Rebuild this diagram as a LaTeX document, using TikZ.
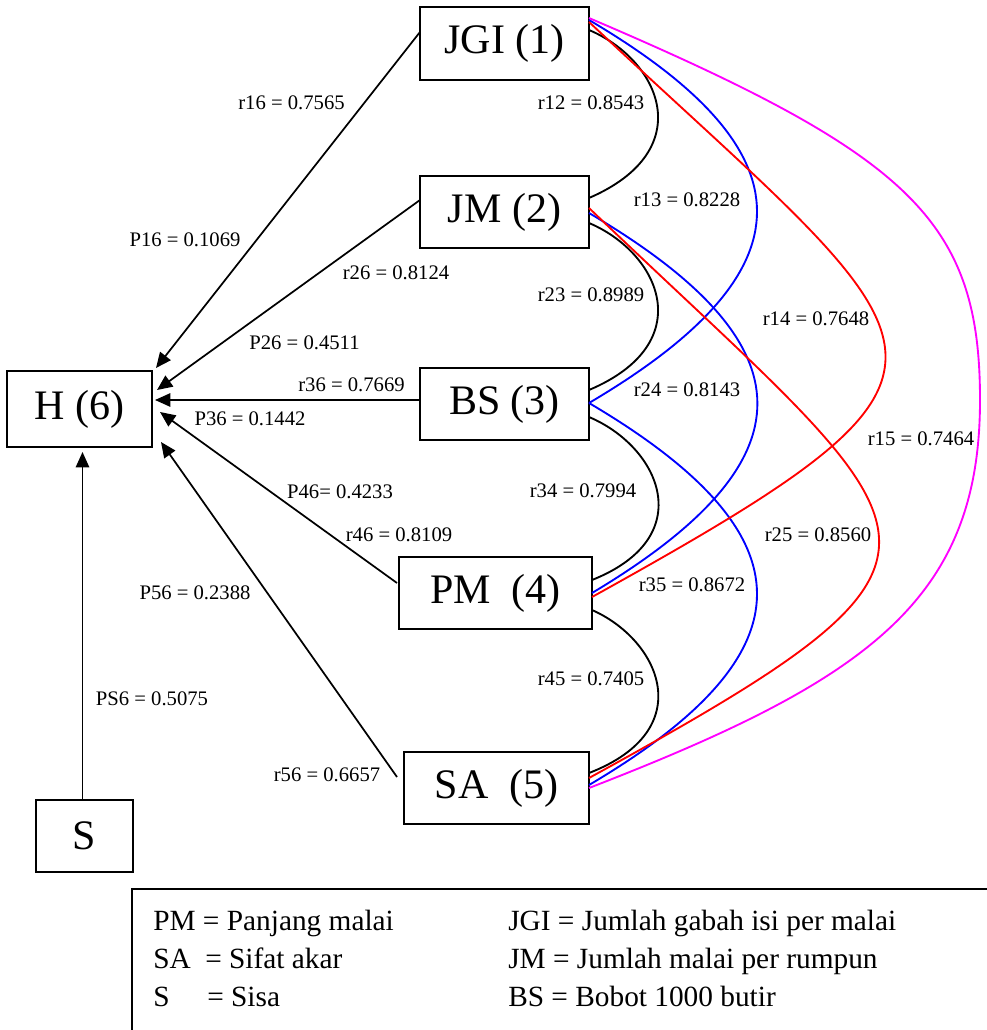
\documentclass[tikz,border=0pt]{standalone}
\usepackage{fontspec}
\setmainfont{Liberation Serif}
\usetikzlibrary{arrows.meta,calc}
\definecolor{magc}{RGB}{255,0,255}
\definecolor{bluc}{RGB}{0,0,255}
\definecolor{redc}{RGB}{255,0,0}
\begin{document}
\begin{tikzpicture}[x=0.75pt,y=-0.75pt,
  box/.style={draw,line width=1.5pt,inner sep=0pt,outer sep=0pt,font=\fontsize{31.5}{36}\selectfont},
  lbl/.style={inner sep=0pt,font=\fontsize{15.5}{18}\selectfont},
  leg/.style={inner sep=0pt,anchor=base west,font=\fontsize{22}{26}\selectfont},
  arr/.style={line width=1.3pt,-{Triangle[length=11.5pt,width=10pt]}},
  cor/.style={line width=1.4pt}]
\useasboundingbox (0,0) rectangle (986,1030);

% boxes
\node[box,minimum width=126.75pt,minimum height=54.75pt] (jgi) at (504.5,43.5) {JGI (1)};
\node[box,minimum width=126.75pt,minimum height=54pt] (jm) at (504.5,212) {JM (2)};
\node[box,minimum width=126.75pt,minimum height=54pt] (bs) at (504.5,404) {BS (3)};
\node[box,minimum width=144.75pt,minimum height=54pt] (pm) at (495.5,593) {PM\ \ (4)};
\node[box,minimum width=138.75pt,minimum height=54pt] (sa) at (496.5,788) {SA\ \ (5)};
\node[box,minimum width=108.75pt,minimum height=57pt] (h) at (79.5,409) {H (6)};
\node[box,minimum width=72.75pt,minimum height=54pt] (s) at (84.5,836) {S};

% arrows to H
\draw[arr] ($(jgi.north west)+(0,25)$) -- ($(h.north east)+(4,-3)$);
\draw[arr] ($(jm.north west)+(0,24)$) -- ($(h.north east)+(5,19)$);
\draw[arr] ($(bs.north west)+(0,32)$) -- ($(h.north east)+(3,29)$);
\draw[arr] ($(pm.north west)+(-2,26)$) -- ($(h.north east)+(8,41)$);
\draw[arr] ($(sa.north west)+(-7,25)$) -- ($(h.north east)+(9,71)$);
\draw[arr] ($(s.north)+(-2,0)$) -- ($(h.south)+(3,5)$);

% correlations: black
\draw[cor,black] ($(jgi.north east)+(0,23)$) .. controls (660,60) and (700,150) .. ($(jm.north east)+(0,22)$);
\draw[cor,black] ($(jm.north east)+(0,47)$) .. controls (660,253) and (700,343) .. ($(bs.north east)+(0,22)$);
\draw[cor,black] ($(bs.north east)+(0,49)$) .. controls (660,447) and (700,537) .. ($(pm.north east)+(0,23)$);
\draw[cor,black] ($(pm.north east)+(0,53)$) .. controls (660,640) and (700,730) .. ($(sa.north east)+(0,21)$);
% blue
\draw[cor,bluc] ($(jgi.north east)+(0,13)$) .. controls (813,152) and (813,271) .. ($(bs.north east)+(0,35)$);
\draw[cor,bluc] ($(jm.north east)+(0,37)$) .. controls (813,345) and (813,461) .. ($(pm.north east)+(0,36)$);
\draw[cor,bluc] ($(bs.north east)+(0,35)$) .. controls (813,535) and (813,653) .. ($(sa.north east)+(0,33)$);
% red
\draw[cor,redc] ($(jgi.north east)+(0,15)$) .. controls (948,358) and (1018,361) .. ($(pm.north east)+(0,40)$);
\draw[cor,redc] ($(jm.north east)+(0,32)$) .. controls (940,544) and (1010,547) .. ($(sa.north east)+(0,26)$);
% magenta
\coordinate (m15) at (980,400);
\draw[cor,magc] ($(jgi.north east)+(0,11)$) .. controls (910,155) and (980,220) .. (m15)
  .. controls (980,600) and (868,680) .. ($(sa.north east)+(0,36)$);

% labels
\node[lbl] (l16) at (291.5,103) {r16 = 0.7565};
\node[lbl] (p16) at (185,240) {P16 = 0.1069};
\node[lbl] (l12) at (591,103) {r12 = 0.8543};
\node[lbl] (l13) at (687,200) {r13 = 0.8228};
\node[lbl] (l26) at (396,273) {r26 = 0.8124};
\node[lbl] (l23) at (591,295) {r23 = 0.8989};
\node[lbl] (p26) at (304.5,343) {P26 = 0.4511};
\node[lbl] (l14) at (816,319) {r14 = 0.7648};
\node[lbl] (l36) at (351.5,385) {r36 = 0.7669};
\node[lbl] (p36) at (250,419) {P36 = 0.1442};
\node[lbl] (l24) at (687,390) {r24 = 0.8143};
\node[lbl] (l15) at (921,439) {r15 = 0.7464};
\node[lbl] (p46) at (340,492) {P46= 0.4233};
\node[lbl] (l34) at (583,491) {r34 = 0.7994};
\node[lbl] (l46) at (399,535) {r46 = 0.8109};
\node[lbl] (l25) at (818,535) {r25 = 0.8560};
\node[lbl] (p56) at (195,593) {P56 = 0.2388};
\node[lbl] (l35) at (692,585) {r35 = 0.8672};
\node[lbl] (l45) at (591,679) {r45 = 0.7405};
\node[lbl] (ps6) at (152,699) {PS6 = 0.5075};
\node[lbl] (l56) at (327,775) {r56 = 0.6657};

% legend
\coordinate (lg) at (132,889);
\draw[line width=1.5pt] ($(lg)+(0,150)$) -- (lg) -- ($(lg)+(860,0)$);
\node[leg] (g1) at (153,930) {PM = Panjang malai};
\node[leg] (g2a) at (153,968) {SA};
\node[leg] (g2b) at (205,968) {= Sifat akar};
\node[leg] (g3a) at (153,1006) {S};
\node[leg] (g3b) at (207,1006) {= Sisa};
\node[leg] (g4) at (508,930) {JGI = Jumlah gabah isi per malai};
\node[leg] (g5) at (508,968) {JM = Jumlah malai per rumpun};
\node[leg] (g6) at (508,1006) {BS = Bobot 1000 butir};
\end{tikzpicture}
\end{document}
